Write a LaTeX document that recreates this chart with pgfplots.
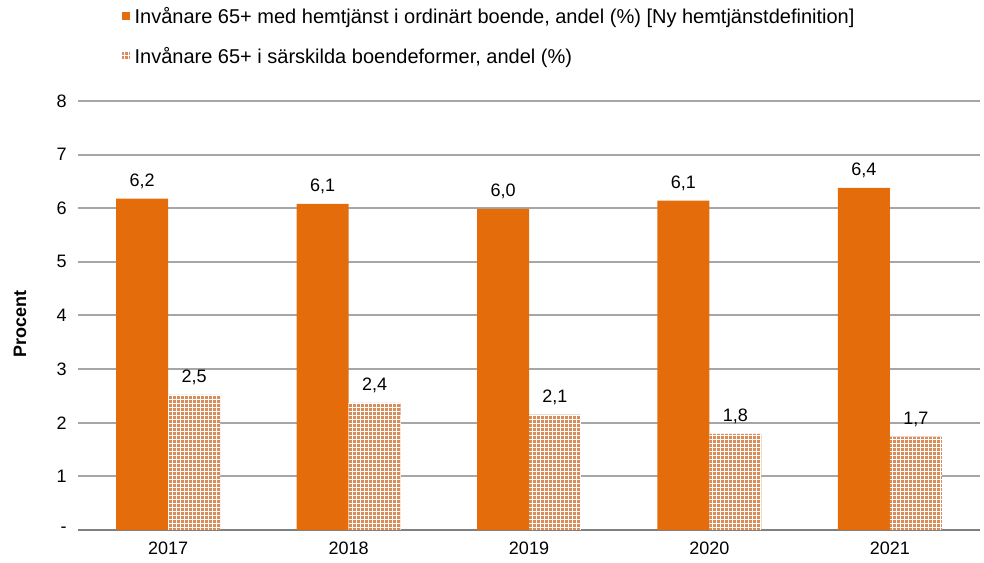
\documentclass[border=0pt]{standalone}
\usepackage{fontspec}
\setmainfont{Liberation Sans}
\usepackage{pgfplots}
\pgfplotsset{compat=1.18}
\usetikzlibrary{patterns,calc}
\definecolor{orangebar}{HTML}{E46C0A}
\definecolor{gridgray}{HTML}{A6A6A6}
\definecolor{axisgray}{HTML}{808080}
\definecolor{patbg}{HTML}{DA8C58}

\begin{document}
\begin{tikzpicture}
\begin{axis}[
  scale only axis, width=676.5pt, height=321.75pt,
  ybar=0pt, bar width=0.288,
  xmin=-0.5, xmax=4.5, ymin=0, ymax=8,
  xtick={0,1,2,3,4}, xticklabels={2017,2018,2019,2020,2021},
  xtick style={draw=none},
  extra x ticks={-0.5,0.5,1.5,2.5,3.5,4.5}, extra x tick labels={},
  extra x tick style={grid=none, tick style={draw=axisgray, line width=1.2pt}, major tick length=6pt, tick align=outside},
  ytick={0,1,...,8}, yticklabels={-,1,2,3,4,5,6,7,8},
  ytick style={draw=none},
  ymajorgrids, grid style={gridgray, line width=1.5pt},
  axis x line*=bottom, axis y line*=left,
  x axis line style={draw=axisgray, line width=1.5pt, -},
  y axis line style={draw=none},
  /pgf/number format/assume math mode=true,
  ticklabel style={font=\fontsize{13.5}{16}\selectfont},
  yticklabel style={xshift=-5pt},
  xticklabel style={yshift=-1pt},
  ylabel={\bfseries Procent},
  ylabel style={at={(axis description cs:0,0.48)}, anchor=center, yshift=43.5pt, font=\fontsize{13.5}{16}\selectfont},
  nodes near coords,
  point meta=explicit symbolic,
  every node near coord/.append style={font=\fontsize{13.5}{16}\selectfont, text=black, yshift=4pt},
  legend style={at={(axis description cs:0.044,1.07)}, anchor=south west, draw=none, fill=none,
    font=\fontsize{15}{17}\selectfont, row sep=12.5pt, legend cell align=left},
  legend image code/.code={\path[#1] (0pt,-3pt) rectangle (6pt,3pt);},
  legend style={/tikz/every odd column/.append style={column sep=1.5pt}},
]
\addplot[draw=none, fill=orangebar] coordinates {
  (0,6.18) [6,2]
  (1,6.08) [6,1]
  (2,5.99) [6,0]
  (3,6.14) [6,1]
  (4,6.38) [6,4]
};
\addplot[draw=none, fill=patbg, postaction={pattern=grid, pattern color=white}] coordinates {
  (0,2.52) [2,5]
  (1,2.37) [2,4]
  (2,2.15) [2,1]
  (3,1.79) [1,8]
  (4,1.74) [1,7]
};
\legend{{Invånare 65+ med hemtjänst i ordinärt boende, andel (\%) [Ny hemtjänstdefinition]},
        {Invånare 65+ i särskilda boendeformer, andel (\%)}}
\end{axis}
\pgfresetboundingbox
\path ($(current axis.south west)+(-58.5pt,-24.75pt)$) rectangle ($(current axis.north east)+(3pt,75.75pt)$);
\end{tikzpicture}
\end{document}
